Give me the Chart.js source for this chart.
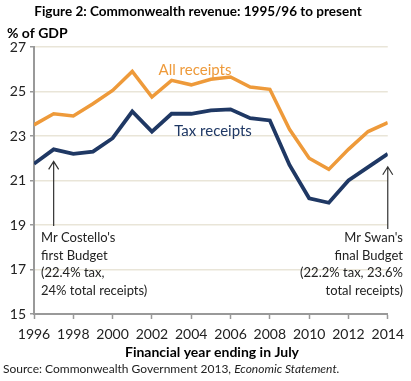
<!DOCTYPE html>
<html><head><meta charset="utf-8">
<script src="https://cdn.jsdelivr.net/npm/chart.js@4"></script>
<style>html,body{margin:0;padding:0;background:#fff}#wrap{width:411px;height:381px;position:relative}</style>
</head><body><div id="wrap"><canvas id="c" width="411" height="381"></canvas></div>
<script>
const years = [1996,1997,1998,1999,2000,2001,2002,2003,2004,2005,2006,2007,2008,2009,2010,2011,2012,2013,2014];
const allReceipts = [23.5,24.0,23.9,24.45,25.05,25.9,24.75,25.5,25.3,25.55,25.65,25.2,25.1,23.3,22.0,21.5,22.4,23.2,23.6];
const taxReceipts = [21.75,22.4,22.2,22.3,22.9,24.1,23.2,24.0,24.0,24.15,24.2,23.8,23.7,21.7,20.2,20.0,21.0,21.6,22.2];
const xTicks = [1996,1998,2000,2002,2004,2006,2008,2010,2012,2014];
const yTicks = [15,17,19,21,23,25,27];

const ORANGE = '#EE9A3A', NAVY = '#1F3864', FONT = 'Lato';

const textPlugin = {
  id: 'texts',
  afterDraw(chart) {
    const ctx = chart.ctx, xs = chart.scales.x, ys = chart.scales.y;
    ctx.save();
    ctx.fillStyle = '#000';
    ctx.textBaseline = 'middle';
    ctx.font = `bold 13.5px ${FONT}`;
    ctx.textAlign = 'center';
    ctx.fillText('Figure 2: Commonwealth revenue: 1995/96 to present', 198, 12);
    ctx.font = `bold 14px ${FONT}`;
    ctx.textAlign = 'left';
    ctx.fillText('% of GDP', 7, 33);
    ctx.textAlign = 'center';
    ctx.fillText('Financial year ending in July', 212, 352);
    ctx.font = `12px ${FONT}`;
    ctx.textAlign = 'left';
    const s1 = 'Source: Commonwealth Government 2013, ';
    ctx.fillStyle = '#222';
    ctx.fillText(s1, 3, 369);
    const w = ctx.measureText(s1).width;
    ctx.font = `italic 12px ${FONT}`;
    ctx.fillText('Economic Statement.', 3 + w, 369);

    // series labels
    ctx.font = `15px ${FONT}`;
    ctx.fillStyle = ORANGE;
    ctx.textAlign = 'center';
    ctx.fillText('All receipts', 195, 70);
    ctx.fillStyle = NAVY;
    ctx.fillText('Tax receipts', 213, 131);

    // notes
    ctx.fillStyle = '#222';
    ctx.font = `13px ${FONT}`;
    ctx.textAlign = 'left';
    const L = ["Mr Costello's", 'first Budget', '(22.4% tax,', '24% total receipts)'];
    L.forEach((t, i) => ctx.fillText(t, 41, 238 + i * 17.5));
    ctx.textAlign = 'right';
    const R = ["Mr Swan's", 'final Budget', '(22.2% tax, 23.6%', 'total receipts)'];
    R.forEach((t, i) => ctx.fillText(t, 403, 238 + i * 17.5));

    // arrows
    const arrow = (x, yTop, yBot) => {
      ctx.strokeStyle = '#333';
      ctx.lineWidth = 1.2;
      ctx.beginPath();
      ctx.moveTo(x, yBot); ctx.lineTo(x, yTop);
      ctx.moveTo(x - 5, yTop + 8); ctx.lineTo(x, yTop); ctx.lineTo(x + 5, yTop + 8);
      ctx.stroke();
    };
    arrow(xs.getPixelForValue(1997), ys.getPixelForValue(taxReceipts[1]) + 12, 226);
    arrow(xs.getPixelForValue(2014), ys.getPixelForValue(taxReceipts[18]) + 13, 229);
    ctx.restore();
  }
};

new Chart(document.getElementById('c'), {
  type: 'line',
  data: {
    datasets: [
      { label: 'All receipts', data: years.map((y, i) => ({x: y, y: allReceipts[i]})), borderColor: ORANGE, borderWidth: 3.5, pointRadius: 0, tension: 0, borderJoinStyle: 'miter' },
      { label: 'Tax receipts', data: years.map((y, i) => ({x: y, y: taxReceipts[i]})), borderColor: NAVY, borderWidth: 3.8, pointRadius: 0, tension: 0, borderJoinStyle: 'miter' }
    ]
  },
  options: {
    responsive: false, animation: false, devicePixelRatio: 1,
    layout: { padding: { top: 47, right: 19, left: 0, bottom: 0 } },
    plugins: { legend: { display: false }, tooltip: { enabled: false } },
    scales: {
      x: {
        type: 'linear', min: 1996, max: 2014,
        afterBuildTicks: s => { s.ticks = xTicks.map(v => ({value: v})); },
        afterFit: s => { s.height = 67; },
        ticks: { callback: v => String(v), color: '#222', font: { family: FONT, size: 14 }, padding: 7, maxRotation: 0, autoSkip: false },
        grid: { drawOnChartArea: false, drawTicks: true, tickLength: 5, tickColor: '#999', tickWidth: 1.5 },
        border: { color: '#999', width: 2 }
      },
      y: {
        min: 15, max: 27,
        afterBuildTicks: s => { s.ticks = yTicks.map(v => ({value: v})); },
        afterFit: s => { s.width = 34; },
        ticks: { color: '#222', font: { family: FONT, size: 14 }, padding: 4 },
        grid: { color: c => c.tick && c.tick.value === 15 ? 'rgba(0,0,0,0)' : '#E9E5D8', lineWidth: 1.5, tickLength: 4, tickColor: '#999', tickWidth: 1.5 },
        border: { color: '#999', width: 2 }
      }
    }
  },
  plugins: [textPlugin]
});
</script></body></html>
